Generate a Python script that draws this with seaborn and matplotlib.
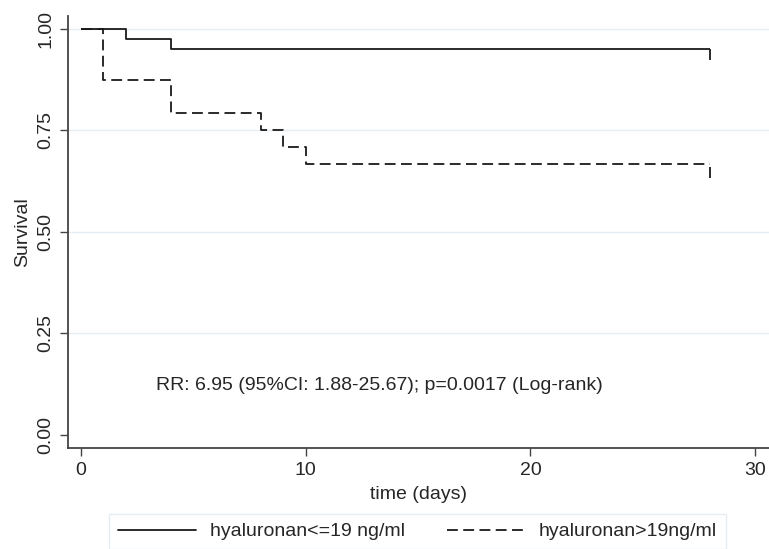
import matplotlib
matplotlib.use("Agg")
import matplotlib.pyplot as plt
import seaborn as sns
import pandas as pd

# Kaplan-Meier step values
low_time = [0, 2, 4, 28]
low_surv = [1.0, 0.976, 0.951, 0.951]
high_time = [0, 1, 4, 8, 9, 10, 28]
high_surv = [1.0, 0.875, 0.792, 0.75, 0.708, 0.667, 0.667]
labels = ["hyaluronan<=19 ng/ml", "hyaluronan>19ng/ml"]
annot = "RR: 6.95 (95%CI: 1.88-25.67); p=0.0017 (Log-rank)"

df = pd.concat([
    pd.DataFrame({"time": low_time, "surv": low_surv, "group": labels[0]}),
    pd.DataFrame({"time": high_time, "surv": high_surv, "group": labels[1]}),
])

sns.set_theme(style="white")
plt.rcParams["font.family"] = ["Liberation Sans", "DejaVu Sans"]

fig = plt.figure(figsize=(7.69, 5.49), dpi=100)
ax = fig.add_axes([0.0884, 0.184, 0.911, 0.787])

lw = 1.3
fs = 14
ax.grid(False)
for yv in [0.25, 0.5, 0.75, 1.0]:
    ax.axhline(yv, color="#e4edf4", lw=1.0, zorder=0)

sns.lineplot(data=df, x="time", y="surv", style="group", hue="group",
             palette=["#1a1a1a", "#1a1a1a"], dashes=[(1, 0), (6, 3)],
             drawstyle="steps-post", lw=lw, ax=ax, legend=False,
             estimator=None, sort=False)

# censoring ticks at the end of follow-up
ax.vlines(low_time[-1], low_surv[-1] - 0.028, low_surv[-1], color="#1a1a1a", lw=lw)
ax.vlines(high_time[-1], high_surv[-1] - 0.035, high_surv[-1] - 0.006, color="#1a1a1a", lw=lw)

ax.set_xlim(-0.58, 30.6)
ax.set_ylim(-0.032, 1.032)
ax.set_xticks([0, 10, 20, 30])
ax.set_yticks([0, 0.25, 0.5, 0.75, 1.0])
ax.set_yticklabels(["0.00", "0.25", "0.50", "0.75", "1.00"], rotation=90, va="center")
ax.tick_params(axis="both", direction="out", length=6, width=1, color="#444444",
               labelsize=fs, pad=4, bottom=True, left=True)
for s in ["top", "right"]:
    ax.spines[s].set_visible(False)
for s in ["left", "bottom"]:
    ax.spines[s].set_color("#444444")
    ax.spines[s].set_linewidth(1.3)

ax.set_xlabel("time (days)", fontsize=fs, labelpad=5)
ax.set_ylabel("Survival", fontsize=fs, labelpad=4)

ax.text(13.3, 0.123, annot, fontsize=fs, ha="center", va="center")

handles = [plt.Line2D([], [], color="#1a1a1a", lw=lw),
           plt.Line2D([], [], color="#1a1a1a", lw=lw, dashes=(6, 3))]
leg = fig.legend(handles, labels, loc="upper center", bbox_to_anchor=(0.543, 1 - 514 / 549),
                 ncol=2, fontsize=fs, frameon=True, fancybox=False, handlelength=4.0,
                 handletextpad=0.7, columnspacing=2.2, borderpad=0.45, borderaxespad=0)
leg.get_frame().set_edgecolor("#dfe8f0")
leg.get_frame().set_linewidth(1.0)

fig.savefig("out.png", dpi=100)
